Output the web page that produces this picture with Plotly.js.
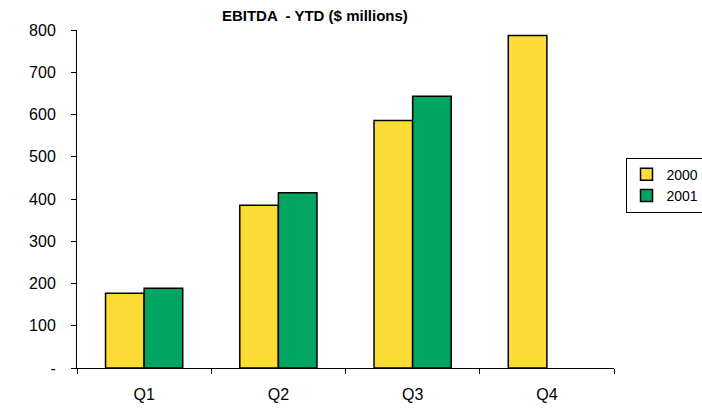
<!DOCTYPE html>
<html>
<head>
<meta charset="utf-8">
<script src="https://cdn.plot.ly/plotly-3.0.1.min.js"></script>
<style>html,body{margin:0;padding:0;background:#fff;}#chart{width:702px;height:413px;}</style>
</head>
<body>
<div id="chart"></div>
<script>
const categories = ["Q1", "Q2", "Q3", "Q4"];
const series2000 = [177, 385, 586, 787];
const series2001 = [189, 415, 643, null];
const yTickVals = [0, 100, 200, 300, 400, 500, 600, 700, 800];
const yTickText = ["-", "100", "200", "300", "400", "500", "600", "700", "800"];

const traces = [
  {type: "bar", name: "2000", x: categories, y: series2000,
   marker: {color: "#FDDC36", line: {color: "#000", width: 1.5}}},
  {type: "bar", name: "2001", x: categories, y: series2001,
   marker: {color: "#00A562", line: {color: "#000", width: 1.5}}}
];

const layout = {
  width: 702, height: 413,
  margin: {l: 77, r: 88, t: 29.5, b: 44.7, pad: 0, autoexpand: false},
  paper_bgcolor: "#fff", plot_bgcolor: "#fff",
  font: {family: "Liberation Sans, Arial, sans-serif", color: "#000", size: 15},
  barmode: "group", bargap: 0.425, bargroupgap: 0,
  title: {text: "<b>EBITDA  - YTD ($ millions)</b>", font: {size: 15, family: "Liberation Sans, Arial, sans-serif"},
          x: 0.443, xref: "paper", xanchor: "center", y: 0.961, yref: "container", yanchor: "middle"},
  xaxis: {type: "category", showline: true, linecolor: "#000", linewidth: 1,
          ticks: "outside", ticklen: 5, tickcolor: "#000", tickson: "boundaries",
          showgrid: false, zeroline: false, tickfont: {size: 16}, ticklabelstandoff: 12, automargin: false},
  yaxis: {range: [0, 800], showline: true, linecolor: "#000", linewidth: 1,
          ticks: "outside", ticklen: 5, tickcolor: "#000", showgrid: false, zeroline: false,
          tickvals: yTickVals, ticktext: yTickText, tickfont: {size: 16}, ticklabelstandoff: 12, automargin: false},
  legend: {x: 1.095, xanchor: "center", y: 0.541, yanchor: "middle", bordercolor: "#000", borderwidth: 1,
           bgcolor: "#fff", font: {size: 14}, itemwidth: 30},
  showlegend: true
};

Plotly.newPlot("chart", traces, layout, {displayModeBar: false, staticPlot: true});
</script>
</body>
</html>
